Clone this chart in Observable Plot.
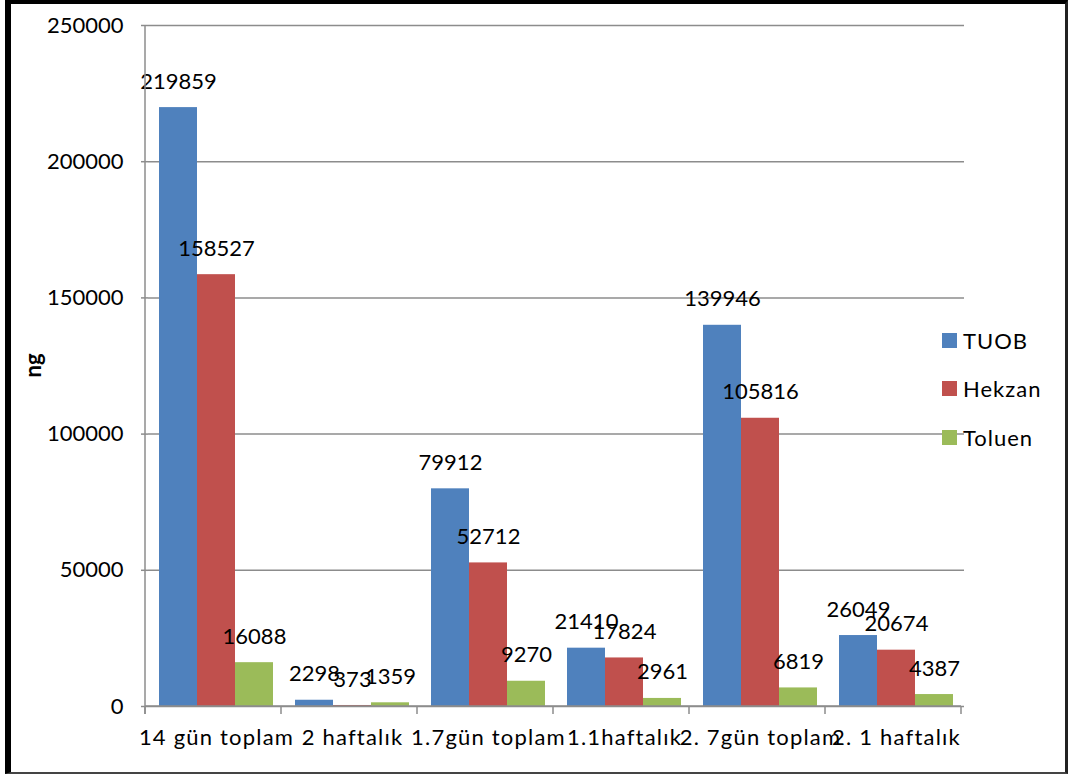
<!DOCTYPE html>
<html>
<head>
<meta charset="utf-8">
<script src="https://cdn.jsdelivr.net/npm/d3@7"></script>
<script src="https://cdn.jsdelivr.net/npm/@observablehq/plot@0.6"></script>
<style>
  body { margin: 0; background: #fff; }
  #wrap { position: relative; width: 1068px; height: 774px; font-family: Lato, sans-serif; overflow: hidden; }
  #chart { position: absolute; left: 0; top: 0; }
  #border {
    position: absolute; left: 5px; top: 0; width: 1063px; height: 774px; box-sizing: border-box;
    border-left: 6px solid #000; border-top: 4px solid #000;
    border-right: 3px solid #222; border-bottom: 2px solid #444;
    pointer-events: none;
  }
  .item { position: absolute; left: 942px; height: 26px; display: flex; align-items: center; font-size: 22px; color: #000; white-space: nowrap; letter-spacing: 1px; }
  .sw { width: 15px; height: 15px; margin-right: 6px; }
  #chart svg [aria-label="y-axis tick"] path { stroke: #8c8c8c; stroke-width: 1.5; }
  #chart svg [aria-label="fx-axis tick label"] text { letter-spacing: 1.2px; }
</style>
</head>
<body>
<div id="wrap">
  <div id="chart"></div>
  <div id="legend"></div>
  <div id="border"></div>
</div>
<script>
// Categories (sampling periods) and measured amounts in ng
const categories = ["14 gün toplam", "2 haftalık", "1.7gün toplam", "1.1haftalık", "2. 7gün toplam", "2. 1 haftalık"];
const series = ["TUOB", "Hekzan", "Toluen"];
const tuob   = [219859, 2298, 79912, 21410, 139946, 26049];
const hekzan = [158527, 373, 52712, 17824, 105816, 20674];
const toluen = [16088, 1359, 9270, 2961, 6819, 4387];
const seriesColors = ["#4F81BD", "#C0504D", "#9BBB59"];
const yMax = 250000;

const valuesBySeries = [tuob, hekzan, toluen];
const rows = [];
categories.forEach((c, i) => {
  series.forEach((s, j) => rows.push({category: c, series: s, value: valuesBySeries[j][i]}));
});

const plot = Plot.plot({
  width: 1068,
  height: 774,
  marginLeft: 145,
  marginRight: 102,
  marginTop: 25,
  marginBottom: 68,
  style: {fontFamily: "Lato, sans-serif", fontSize: "22px", color: "#000", background: "transparent"},
  fx: {domain: categories, padding: 0, label: null, tickSize: 0, tickPadding: 23, axis: "bottom"},
  x: {domain: series, paddingInner: 0, paddingOuter: 0.256, axis: null},
  y: {domain: [0, yMax], ticks: 5, tickSize: 7, tickPadding: 18, tickFormat: d3.format("d"), label: null},
  color: {domain: series, range: seriesColors},
  marks: [
    Plot.ruleY(d3.ticks(0, yMax, 5), {stroke: "#8c8c8c", strokeWidth: 1.5}),
    Plot.barY(rows, {fx: "category", x: "series", y: "value", fill: "series"}),
    Plot.text(rows, {fx: "category", x: "series", y: "value", text: d => String(d.value), dy: -26, fill: "#000"})
  ]
});
document.getElementById("chart").appendChild(plot);

// Axis line and between-category tick marks, placed from the plot's scales
const svg = d3.select(plot);
const fxScale = plot.scale("fx");
const yScale = plot.scale("y");
const yBase = yScale.range[0], yTop = yScale.range[1];
const xLeft = fxScale.range[0];
const step = fxScale.step || (fxScale.range[1] - fxScale.range[0]) / categories.length;
const axisG = svg.append("g").attr("stroke", "#8c8c8c").attr("stroke-width", 1.5);
axisG.append("line").attr("x1", xLeft).attr("x2", xLeft).attr("y1", yTop).attr("y2", yBase + 8);
d3.range(categories.length + 1).forEach(i => {
  const x = xLeft + i * step;
  axisG.append("line").attr("x1", x).attr("x2", x).attr("y1", yBase).attr("y2", yBase + 8);
});
axisG.append("line").attr("x1", xLeft).attr("x2", xLeft + step * categories.length).attr("y1", yBase).attr("y2", yBase);

// Y axis title
svg.append("text")
  .attr("transform", `translate(35,${(yTop + yBase) / 2}) rotate(-90)`)
  .attr("text-anchor", "middle")
  .attr("dominant-baseline", "middle")
  .attr("font-weight", "bold")
  .attr("font-size", 22)
  .attr("fill", "#000")
  .text("ng");

// Legend
const color = plot.scale("color");
const legend = document.getElementById("legend");
const legendCenters = [340, 388, 437];
series.forEach((s, i) => {
  const item = document.createElement("div");
  item.className = "item";
  item.style.top = (legendCenters[i] - 13) + "px";
  const sw = document.createElement("span");
  sw.className = "sw";
  sw.style.background = color.range[i];
  const label = document.createElement("span");
  label.textContent = s;
  item.appendChild(sw);
  item.appendChild(label);
  legend.appendChild(item);
});
</script>
</body>
</html>
